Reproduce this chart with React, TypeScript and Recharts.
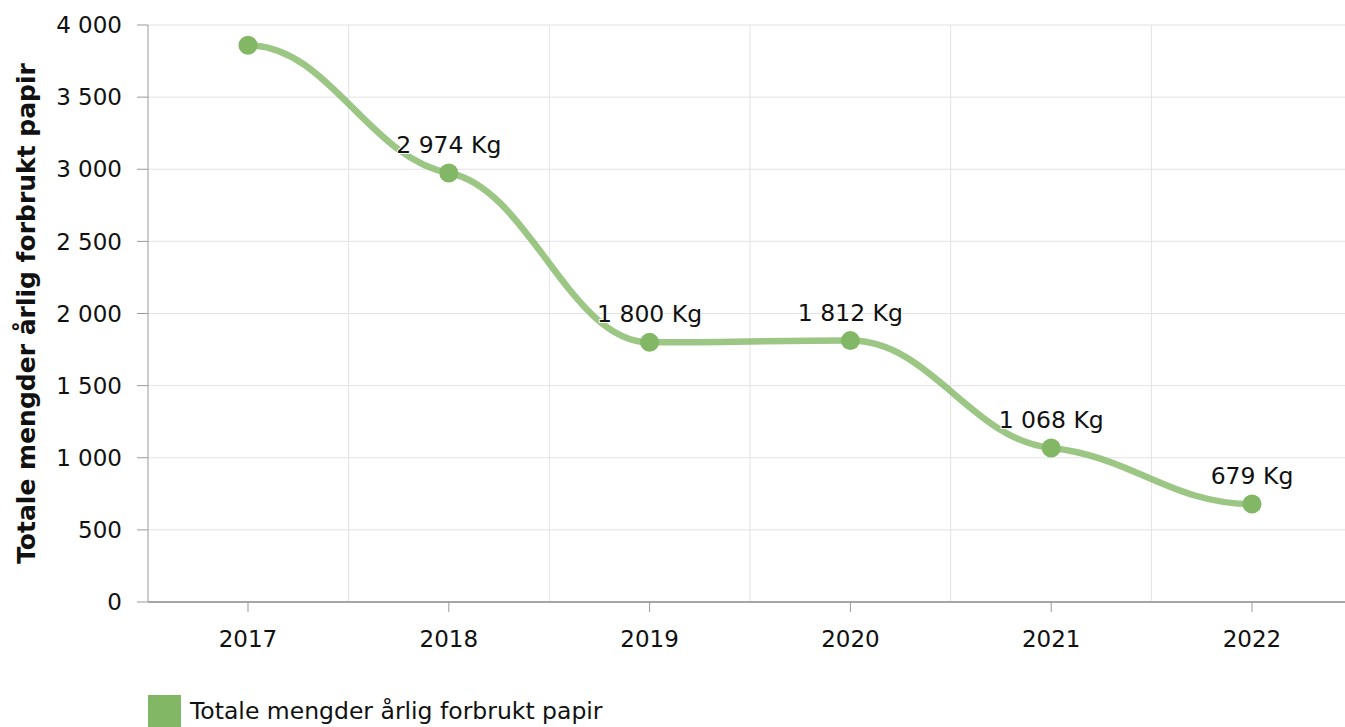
import React from 'react'
import { LineChart, Line, XAxis, YAxis, CartesianGrid, LabelList } from 'recharts'

// årlig forbruk papir (kg)
const years = ['2017', '2018', '2019', '2020', '2021', '2022']
const paperKg = [3860, 2974, 1800, 1812, 1068, 679]
const yTicks = [0, 500, 1000, 1500, 2000, 2500, 3000, 3500, 4000]
const seriesName = 'Totale mengder årlig forbrukt papir'

const GREEN = '#82b865'
const FONT = '"DejaVu Sans", Verdana, sans-serif'

const data = years.map((year, i) => ({ year, kg: paperKg[i] }))

const fmt = (n: number) => String(n).replace(/\B(?=(\d{3})+(?!\d))/g, ' ')

// myk kurve: flate tangenter i ender og ekstremer, korte tangenter ellers
function smoothCurve(context: any) {
  let pts: [number, number][] = []
  return {
    areaStart() {},
    areaEnd() {},
    lineStart() {
      pts = []
    },
    point(x: number, y: number) {
      pts.push([x, y])
    },
    lineEnd() {
      const n = pts.length
      if (!n) return
      const k = 0.25
      const arm = 0.4
      const m: number[] = pts.map((p, i) => {
        if (i === 0 || i === n - 1) return 0
        const d0 = p[1] - pts[i - 1][1]
        const d1 = pts[i + 1][1] - p[1]
        if (d0 * d1 <= 0) return 0
        return (k * (pts[i + 1][1] - pts[i - 1][1])) / (pts[i + 1][0] - pts[i - 1][0])
      })
      context.moveTo(pts[0][0], pts[0][1])
      for (let i = 1; i < n; i++) {
        const [x0, y0] = pts[i - 1]
        const [x1, y1] = pts[i]
        const h = (x1 - x0) * arm
        context.bezierCurveTo(x0 + h, y0 + h * m[i - 1], x1 - h, y1 - h * m[i], x1, y1)
      }
    },
  }
}

const PointLabel = (props: any) => {
  const { x, y, value, index } = props
  if (index === 0) return null // 2017-etiketten vises ikke
  return (
    <text
      x={x}
      y={y - 20}
      textAnchor="middle"
      fontSize={23.5}
      fontFamily={FONT}
      fill="#111"
      stroke="#fff"
      strokeWidth={2}
      paintOrder="stroke"
    >
      {fmt(Number(value))} Kg
    </text>
  )
}

const YTitle = (props: any) => {
  const vb = props.viewBox || {}
  const cy = vb.y + vb.height / 2
  return (
    <text
      x={26}
      y={cy}
      transform={`rotate(-90, 26, ${cy})`}
      textAnchor="middle"
      dominantBaseline="central"
      fontSize={25}
      fontWeight="bold"
      fontFamily={FONT}
      fill="#111"
    >
      {seriesName}
    </text>
  )
}

export default function App() {
  return (
    <div style={{ position: 'relative', width: 1345, height: 727, overflow: 'hidden', fontFamily: FONT }}>
      <style>{`body{margin:0;overflow:hidden}`}</style>
      <LineChart
        width={1352}
        height={727}
        data={data}
        margin={{ top: 25, right: 0, bottom: 65, left: 0 }}
      >
        <CartesianGrid
          stroke="#e3e3e3"
          strokeWidth={1}
          verticalCoordinatesGenerator={({ offset }: any) =>
            [1, 2, 3, 4, 5].map(i => offset.left + (offset.width * i) / years.length)
          }
        />
        <XAxis
          dataKey="year"
          height={60}
          padding={{ left: 100, right: 100 }}
          tickSize={10}
          tickMargin={19}
          axisLine={{ stroke: '#8c8c8c', strokeWidth: 1.5 }}
          tickLine={{ stroke: '#999' }}
          tick={{ fontSize: 23, fill: '#111', fontFamily: FONT }}
        />
        <YAxis
          width={148}
          domain={[0, 4000]}
          ticks={yTicks}
          tickFormatter={fmt}
          tickSize={11}
          tickMargin={15}
          axisLine={{ stroke: '#9a9a9a' }}
          tickLine={{ stroke: '#9a9a9a' }}
          tick={{ fontSize: 23, fill: '#111', fontFamily: FONT }}
          label={YTitle}
        />
        <Line
          dataKey="kg"
          name={seriesName}
          type={smoothCurve as any}
          stroke={GREEN}
          strokeOpacity={0.8}
          strokeWidth={6.5}
          strokeLinecap="round"
          dot={{ r: 9.5, fill: GREEN, stroke: GREEN, strokeWidth: 0, fillOpacity: 1 }}
          activeDot={false}
          isAnimationActive={false}
        >
          <LabelList dataKey="kg" content={PointLabel} />
        </Line>
      </LineChart>
      <div style={{ position: 'absolute', left: 148, top: 695, display: 'flex', alignItems: 'flex-start' }}>
        <div style={{ width: 33, height: 32, background: GREEN }} />
        <span style={{ marginLeft: 9, fontSize: 23.5, lineHeight: '32px', color: '#111' }}>{seriesName}</span>
      </div>
    </div>
  )
}
